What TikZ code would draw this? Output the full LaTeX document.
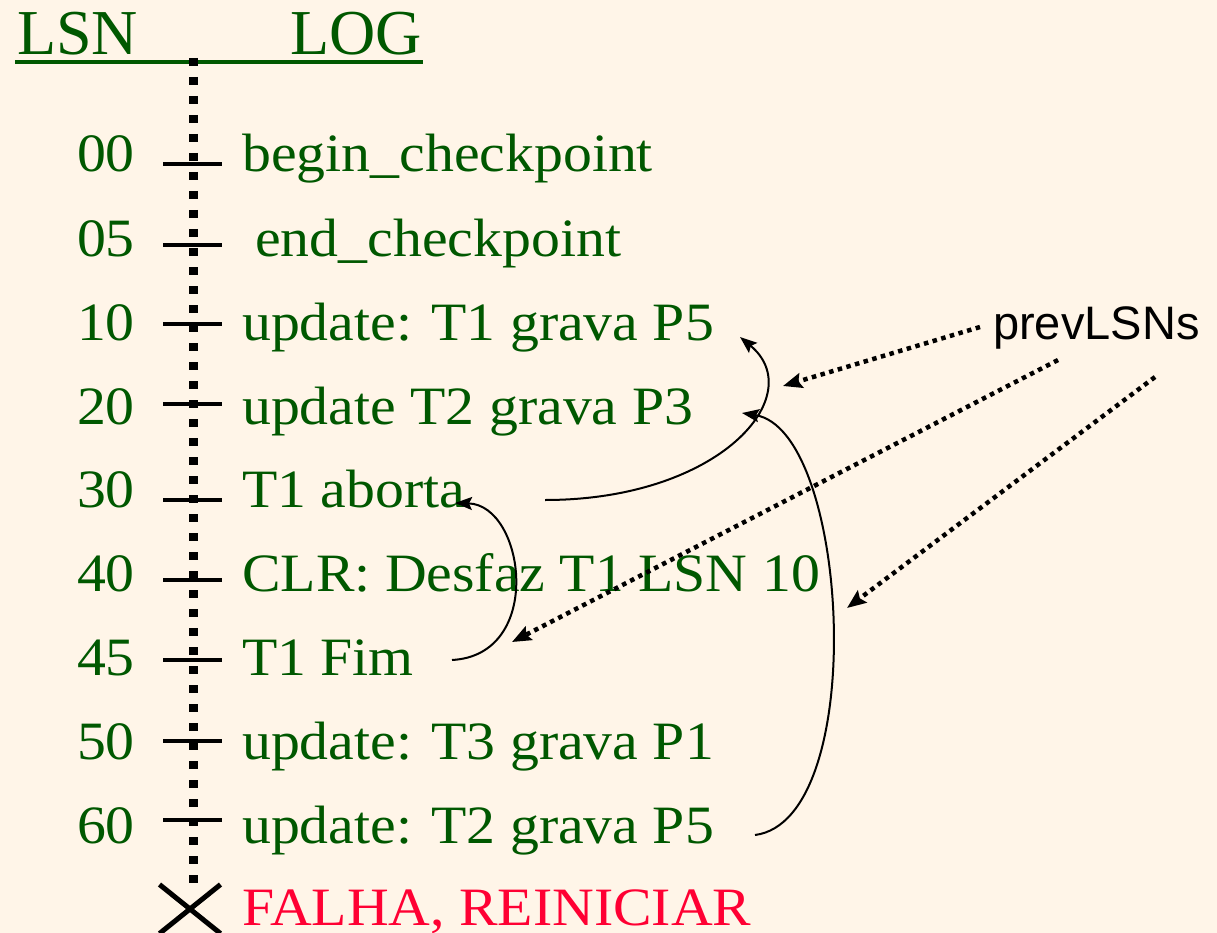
\documentclass[tikz,border=0pt]{standalone}
\usepackage{fontspec}
\setmainfont{Liberation Serif}
\setsansfont{Liberation Sans}
\newfontfamily\rowfont{Liberation Serif}[FakeStretch=1.07]
\usetikzlibrary{arrows.meta,shapes.misc}
\definecolor{bgc}{RGB}{255,245,232}
\definecolor{grn}{RGB}{0,88,0}
\definecolor{fred}{RGB}{255,0,51}
\tikzset{
  hdr/.style={inner sep=0pt, text=grn, font=\fontsize{64}{70}\selectfont},
  rowtxt/.style={inner sep=0pt, text=grn, font=\rowfont\fontsize{54}{60}\selectfont},
  failtxt/.style={inner sep=0pt, text=fred, font=\rowfont\fontsize{54}{60}\selectfont},
  ticksty/.style={line width=4pt, black},
  vline/.style={line width=9pt, black, dash pattern=on 8pt off 11pt},
  curv/.style={line width=2pt, black, -{Stealth[length=17pt,width=13pt,inset=3pt]}},
  dotarrow/.style={line width=4.5pt, black, dash pattern=on 4.5pt off 4.5pt, -{Stealth[length=19pt,width=15pt,inset=3pt]}},
}
\begin{document}
\begin{tikzpicture}[x=1pt,y=-1pt]
\fill[bgc] (0,0) rectangle (1217,933);
\useasboundingbox (0,0) rectangle (1217,933);
% header
\node[hdr, anchor=base west] (lsn) at (17,55) {LSN};
\node[hdr, anchor=base east] (log) at (422,55) {LOG};
\coordinate (ul1) at (15,62);
\coordinate (ul2) at (423,62);
\draw[grn, line width=3.5pt] (ul1) -- (ul2);
% vertical dotted line
\coordinate (vtop) at (193,58);
\coordinate (vbot) at (193,892);
\draw[vline] (vtop) -- (vbot);
% rows
\foreach \n/\lsnv/\txt/\yb/\yt/\xt in {
  r00/00/begin\_checkpoint/172/164/242,
  r05/05/end\_checkpoint/256/245/255,
  r10/10/update: T1 grava P5/340/324/242,
  r20/20/update T2 grava P3/424/404/242,
  r30/30/T1 aborta/507/500/242,
  r40/40/CLR: Desfaz T1 LSN 10/591/580/242,
  r45/45/T1 Fim/675/660/242,
  r50/50/update: T3 grava P1/759/741/242,
  r60/60/update: T2 grava P5/843/820/242}{
  \node[rowtxt, anchor=base east] (l\n) at (135,\yb) {\lsnv};
  \node[rowtxt, anchor=base west] (t\n) at (\xt,\yb) {\txt};
  \coordinate (kw\n) at (163,\yt);
  \coordinate (ke\n) at (222,\yt);
  \draw[ticksty] (kw\n) -- (ke\n);
}
% failure
\node[cross out, draw, line width=5pt, minimum width=56pt, minimum height=44pt, inner sep=0pt] (xmark) at (190,909) {};
\node[failtxt, anchor=base west] (fail) at (242,925) {FALHA, REINICIAR};
% prevLSNs label
\node[inner sep=0pt, anchor=base west, font=\sffamily\fontsize{47}{50}\selectfont] (prev) at (993,339) {prevLSNs};
% solid curved arrows
\coordinate (a1) at (545,500);
\coordinate (a2) at (740,337);
\draw[curv] (a1) .. controls (720,500) and (810,395) .. (a2);
\coordinate (b1) at (452,660);
\coordinate (b2) at (455,503);
\draw[curv] (b1) .. controls (545,655) and (525,505) .. (b2);
\coordinate (c1) at (755,835);
\coordinate (c2) at (742,413);
\draw[curv] (c1) .. controls (870,820) and (850,430) .. (c2);
% dotted arrows
\coordinate (d1s) at (980,327);
\coordinate (d1e) at (783,386);
\draw[dotarrow] (d1s) -- (d1e);
\coordinate (d2s) at (1058,360);
\coordinate (d2e) at (512,642);
\draw[dotarrow] (d2s) -- (d2e);
\coordinate (d3s) at (1155,377);
\coordinate (d3e) at (847,608);
\draw[dotarrow] (d3s) -- (d3e);
\end{tikzpicture}
\end{document}
